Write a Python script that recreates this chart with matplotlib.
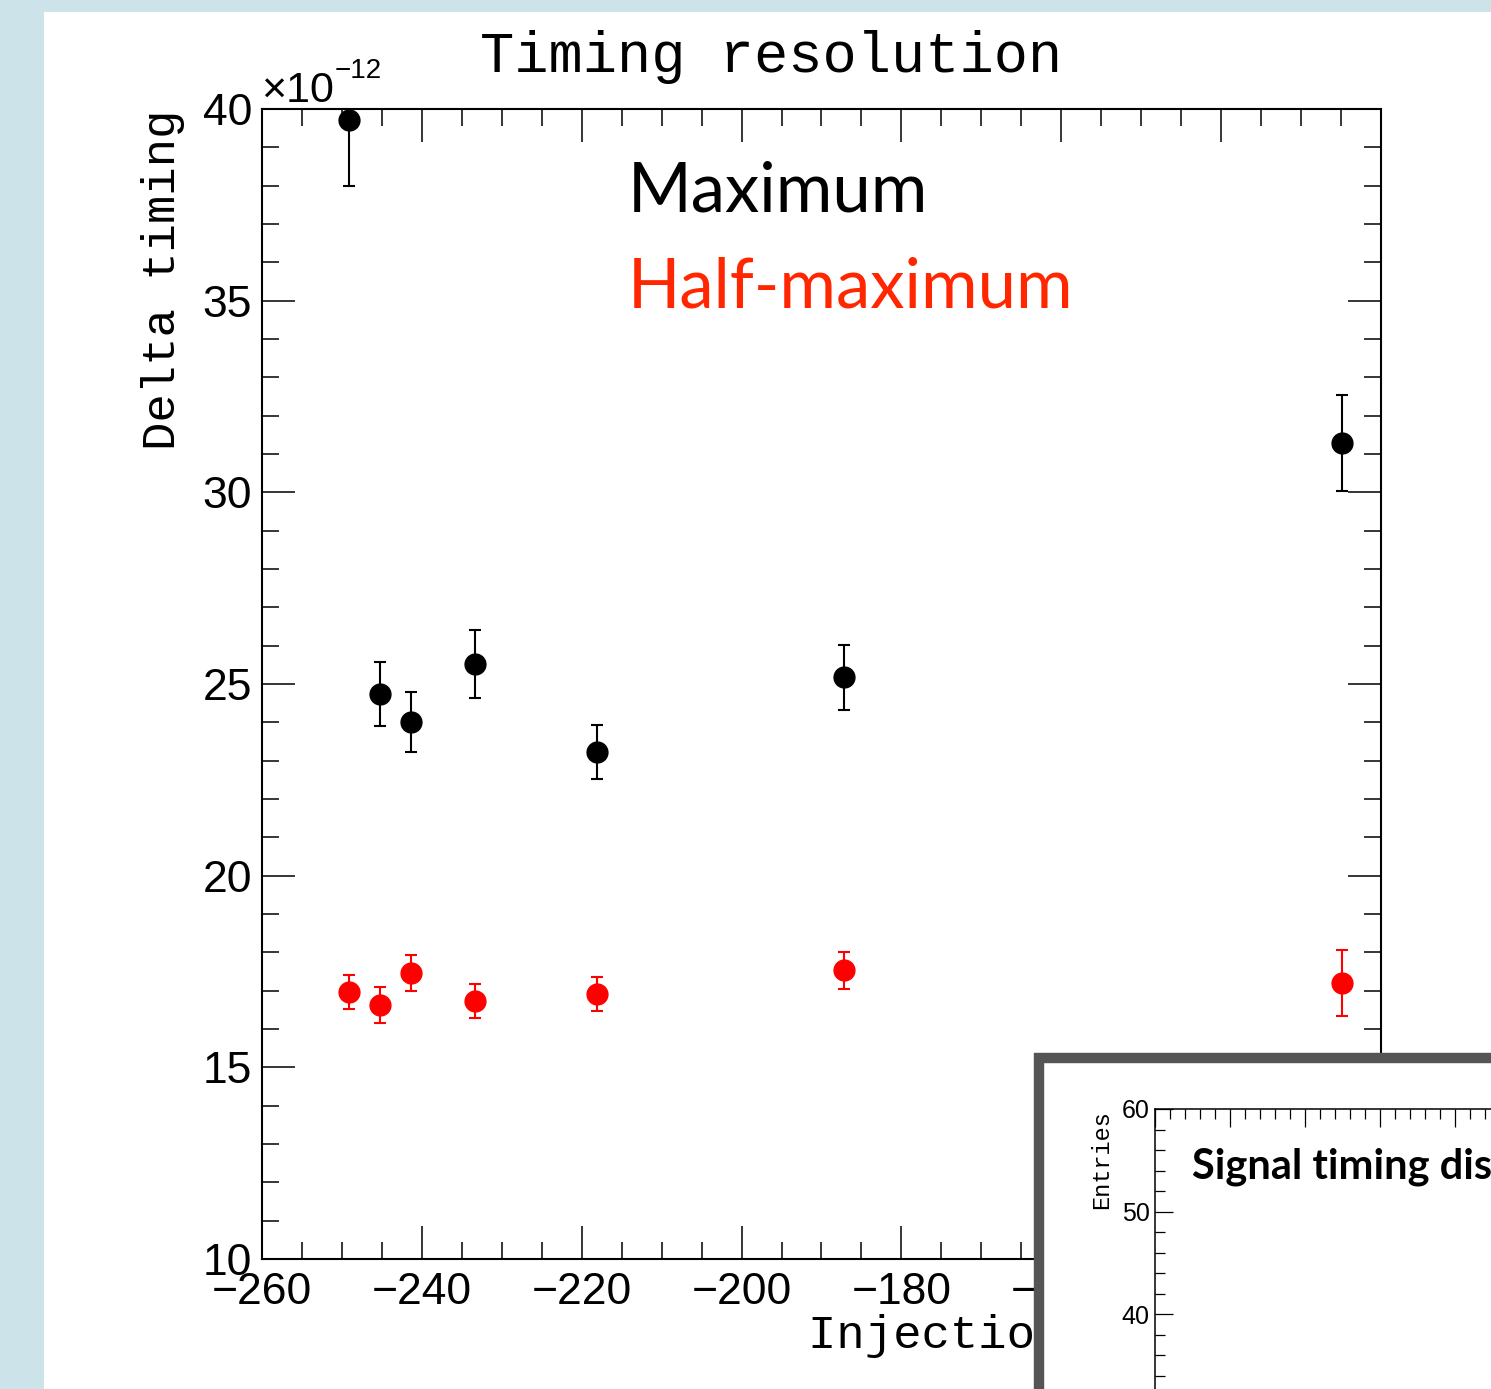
import matplotlib.pyplot as plt
from matplotlib.patches import Rectangle
from matplotlib.ticker import MultipleLocator

# timing resolution vs injection (values in units of 1e-12)
injection = [-249.1, -245.2, -241.4, -233.4, -218.1, -187.2, -124.9]
max_dt = [39.71, 24.74, 24.01, 25.52, 23.22, 25.18, 31.29]
max_err = [1.72, 0.84, 0.78, 0.89, 0.71, 0.85, 1.25]
half_dt = [16.96, 16.62, 17.46, 16.73, 16.91, 17.53, 17.20]
half_err = [0.45, 0.47, 0.46, 0.45, 0.45, 0.48, 0.87]

W, H = 1491, 1389
fig = plt.figure(figsize=(W / 100, H / 100), dpi=100)
fig.patch.set_facecolor("#cde3ea")

# white slide panel
fig.patches.append(Rectangle((44 / W, 0), 1, 1 - 12 / H, transform=fig.transFigure,
                             facecolor="white", edgecolor="none", zorder=-5))

sans = "Liberation Sans"
mono = "Liberation Mono"

ax = fig.add_axes([262 / W, 1 - 1259 / H, (1381 - 262) / W, (1259 - 109) / H])
ax.set_facecolor("none")
ax.set_xlim(-260, -120)
ax.set_ylim(10, 40)

ax.errorbar(injection, max_dt, yerr=max_err, fmt="o", color="black", ms=15,
            elinewidth=1.5, capsize=4, capthick=1.5, zorder=3)
ax.errorbar(injection, half_dt, yerr=half_err, fmt="o", color="#ff0000", ms=15,
            elinewidth=1.5, capsize=4, capthick=1.5, zorder=3)

ax.xaxis.set_major_locator(MultipleLocator(20))
ax.xaxis.set_minor_locator(MultipleLocator(5))
ax.yaxis.set_major_locator(MultipleLocator(5))
ax.yaxis.set_minor_locator(MultipleLocator(1))
ax.tick_params(which="both", direction="in", top=True, right=True, width=1.1)
ax.tick_params(which="major", length=24)
ax.tick_params(which="minor", length=12.5)
ax.tick_params(axis="y", labelsize=32, pad=7)
ax.tick_params(axis="x", labelsize=32, pad=9)
for lab in ax.get_xticklabels() + ax.get_yticklabels():
    lab.set_fontfamily(sans)
for s in ax.spines.values():
    s.set_linewidth(1.5)

# exponent label
fig.text(261 / W, 1 - 102 / H, "\u00d710", fontsize=31, family=sans, va="baseline", ha="left")
fig.text(335 / W, 1 - 78 / H, "\u221212", fontsize=20, family=sans, va="baseline", ha="left")

fig.text(771 / W, 1 - 57 / H, "Timing resolution", fontsize=41, family=mono,
         ha="center", va="center")
fig.text(163 / W, 1 - 110 / H, "Delta timing", fontsize=34, family=mono,
         rotation=90, ha="center", va="top")
fig.text(808 / W, 1 - 1348 / H, "Injection delay [ns]", fontsize=34, family=mono,
         ha="left", va="baseline", zorder=0.5)

fig.text(628 / W, 1 - 212 / H, "Maximum", fontsize=49.5, family="Lato",
         ha="left", va="baseline", color="black")
fig.text(628 / W, 1 - 307 / H, "Half-maximum", fontsize=49.5, family="Lato",
         ha="left", va="baseline", color="#ff2600")

# inset slide with second plot
fig.patches.append(Rectangle((1038.5 / W, -0.2), 0.5, 1 - 1057.5 / H + 0.2,
                             transform=fig.transFigure, facecolor="white",
                             edgecolor="#555555", linewidth=7.5, zorder=2))

ins_h = 60 * 10.27
ins = fig.add_axes([1155 / W, 1 - (1109 + ins_h) / H, 600 / W, ins_h / H])
ins.set_zorder(3)
ins.set_xlim(0, 40)
ins.set_ylim(0, 60)
ins.xaxis.set_major_locator(MultipleLocator(5))
ins.xaxis.set_minor_locator(MultipleLocator(1))
ins.yaxis.set_major_locator(MultipleLocator(10))
ins.yaxis.set_minor_locator(MultipleLocator(2))
ins.tick_params(which="both", direction="in", top=True, right=True, width=0.9,
                labelbottom=False)
ins.tick_params(which="major", length=13)
ins.tick_params(which="minor", length=7)
ins.tick_params(axis="y", labelsize=18, pad=4)
for lab in ins.get_yticklabels():
    lab.set_fontfamily(sans)
for s in ins.spines.values():
    s.set_linewidth(1.1)

ins.text(1192 / W, 1 - 1178 / H, "Signal timing distribution", fontsize=30,
         family="Lato", weight="bold", ha="left", va="baseline",
         transform=fig.transFigure)
fig.text(1102 / W, 1 - 1110 / H, "Entries", fontsize=17, family=mono,
         rotation=90, ha="center", va="top", zorder=4)

fig.savefig("out.png", dpi=100, facecolor=fig.get_facecolor())
